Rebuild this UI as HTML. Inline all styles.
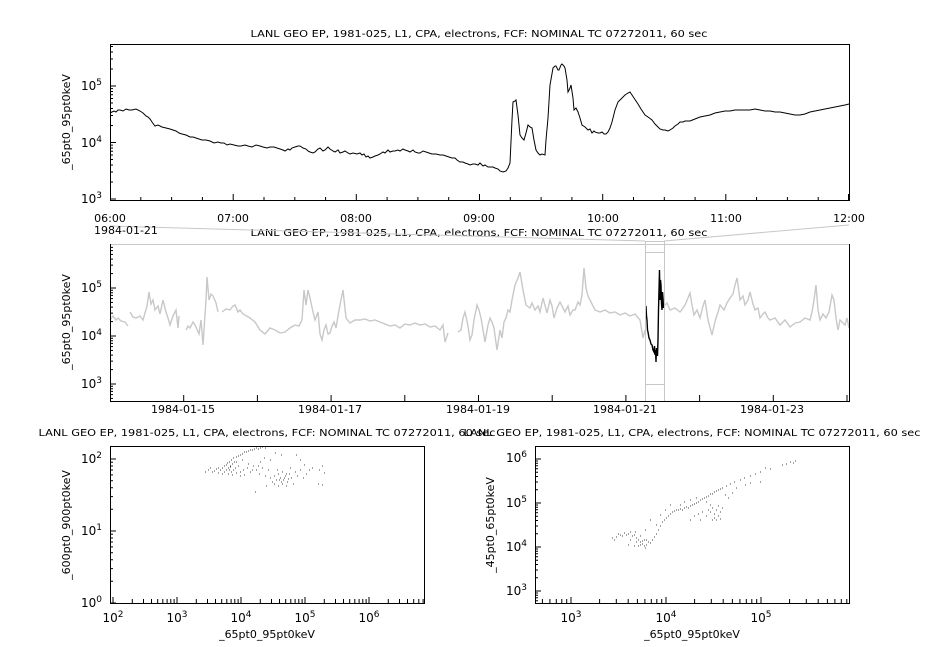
<!DOCTYPE html>
<html><head><meta charset="utf-8"><style>
html,body{margin:0;padding:0;background:#fff;}
svg{display:block;font-family:"DejaVu Sans","Liberation Sans",sans-serif;}
</style></head><body>
<svg width="926" height="647" xmlns="http://www.w3.org/2000/svg">
<g font-size="10" text-anchor="middle" fill="#000">
<text x="479" y="37" textLength="457" lengthAdjust="spacingAndGlyphs">LANL GEO EP, 1981-025, L1, CPA, electrons, FCF: NOMINAL TC 07272011, 60 sec</text>
<text x="479" y="236" textLength="457" lengthAdjust="spacingAndGlyphs">LANL GEO EP, 1981-025, L1, CPA, electrons, FCF: NOMINAL TC 07272011, 60 sec</text>
<text x="267" y="436" textLength="457" lengthAdjust="spacingAndGlyphs">LANL GEO EP, 1981-025, L1, CPA, electrons, FCF: NOMINAL TC 07272011, 60 sec</text>
<text x="692" y="436" textLength="457" lengthAdjust="spacingAndGlyphs">LANL GEO EP, 1981-025, L1, CPA, electrons, FCF: NOMINAL TC 07272011, 60 sec</text>
</g>
<g stroke="#c8c8c8" fill="none">
<line x1="110" y1="226" x2="645" y2="241"/><line x1="849" y1="225" x2="664" y2="241"/>
</g>

<!-- TOP PANEL -->
<polyline fill="none" stroke="#000" stroke-width="1" points="110,113 112,112 114,111 116,112 118,110 120,110 123,111 126,109 129,110 132,110 136,109 140,111 143,113 146,116 148,117 150,119 152,122 155,126 158,125 162,127 166,128 170,129 173,130 176,131 179,133 182,134 186,135 190,137 193,137 196,138 199,139 202,140 206,140 210,141 214,143 218,142 221,143 224,143 227,145 230,144 234,145 238,146 241,146 245,145 248,146 252,147 256,145 260,146 263,147 267,148 270,147 274,147 277,148 280,149 283,150 285,151 288,149 290,150 292,148 295,147 298,146 300,146 303,148 306,149 308,151 310,152 313,153 315,152 318,149 320,148 323,151 325,150 328,147 330,149 333,151 335,152 338,150 340,153 343,152 345,151 348,153 350,154 353,153 357,154 360,153 362,155 364,154 366,157 368,156 370,158 373,157 375,156 378,155 380,154 383,152 385,153 388,150 390,152 393,151 395,151 398,150 400,151 403,149 405,150 408,151 410,152 413,150 415,152 418,153 420,153 423,151 426,152 429,153 432,154 436,154 440,155 443,155 446,156 449,157 452,158 455,158 457,160 460,162 463,162 465,163 468,164 470,165 473,164 475,164 478,165 480,163 483,166 485,165 488,167 490,167 493,167 495,168 498,169 500,171 503,172 506,171 508,168 510,163 512,120 513,102 515,101 516,100 518,115 520,135 522,138 524,140 526,133 528,125 530,127 532,128 534,140 536,150 538,153 540,155 542,154 545,155 546,140 548,118 550,85 553,68 555,66 556,66 558,70 559,70 561,65 562,64 564,66 565,68 567,80 568,92 570,88 571,85 573,98 574,110 576,108 578,112 580,118 582,125 585,127 588,130 590,129 592,133 594,131 595,132 598,133 600,133 602,132 604,134 606,134 608,132 610,128 612,122 615,110 618,102 621,99 625,95 628,93 630,92 632,95 634,98 636,101 638,104 641,109 645,115 648,117 652,120 655,124 658,127 660,129 663,130 665,130 668,131 670,130 673,128 675,126 678,124 680,122 683,122 685,121 688,121 690,121 695,119 700,117 705,116 710,115 715,113 720,112 725,111 730,111 735,110 740,110 745,110 750,110 755,109 760,110 765,111 770,111 775,112 780,112 785,113 790,114 795,115 800,115 805,114 810,112 815,111 820,110 825,109 830,108 835,107 840,106 845,105 849,104"/>
<rect x="110.5" y="44.5" width="739" height="156" fill="none" stroke="#000"/>
<path stroke="#000" fill="none" d="M110,199h6M110,182h3M110,172h3M110,165h3M110,159.5h3M110,155h3M110,151.3h3M110,148h3M110,145.1h3M110,142.5h6M110,125.5h3M110,115.5h3M110,108.5h3M110,103h3M110,98.5h3M110,94.8h3M110,91.5h3M110,88.6h3M110,86h6M110,69h3M110,59h3M110,52h3M110,46.5h3
M110.5,200v-6M140.8,200v-3M171.6,200v-3M202.4,200v-3M233.2,200v-6M264,200v-3M294.8,200v-3M325.6,200v-3M356.3,200v-6M387.1,200v-3M417.9,200v-3M448.7,200v-3M479.5,200v-6M510.3,200v-3M541.1,200v-3M571.9,200v-3M602.7,200v-6M633.5,200v-3M664.3,200v-3M695.1,200v-3M725.8,200v-6M756.6,200v-3M787.4,200v-3M818.2,200v-3M848.5,200v-6"/>
<g font-size="11" text-anchor="middle">
<text x="110" y="222">06:00</text><text x="233" y="222">07:00</text><text x="356" y="222">08:00</text><text x="479" y="222">09:00</text><text x="603" y="222">10:00</text><text x="726" y="222">11:00</text><text x="849" y="222">12:00</text>
</g>
<text x="94" y="234" font-size="11">1984-01-21</text>
<g font-size="12" text-anchor="end">
<text x="102" y="203">10<tspan font-size="9" dy="-5">3</tspan></text>
<text x="102" y="147">10<tspan font-size="9" dy="-5">4</tspan></text>
<text x="102" y="90">10<tspan font-size="9" dy="-5">5</tspan></text>
</g>
<text transform="translate(70,122) rotate(-90)" font-size="11" text-anchor="middle">_65pt0_95pt0keV</text>

<!-- MIDDLE PANEL -->
<g fill="none" stroke="#c8c8c8" stroke-width="1.4">
<polyline points="110,320 113,316 116,320 118,318 121,321 125,322 128,326"/>
<polyline points="130,312 133,317 136,318 140,316 143,320 147,306 149,292 151,304 153,300 155,310 158,306 160,314 163,300 166,312 168,318 170,325 173,316 176,310 178,328 179,316"/>
<polyline points="186,330 188,326 190,328 193,322 195,325 199,334 201,320 203,345 206,300 207,277 209,300 211,294 213,296 216,303 218,312"/>
<polyline points="222,312 226,309 230,310 233,306 235,305 238,312 240,310 243,314 245,315 250,318 255,322 260,330 265,334 270,328 275,330 280,333 285,332 290,328 295,325 299,326 302,320 304,290 306,305 308,290 310,298 313,312 315,320 318,312 320,334 322,340 324,330 326,325 328,334 330,333 332,326 334,322 336,328 338,316 340,305 343,290 346,318 350,323 355,320 360,320 365,319 370,321 375,320 380,322 385,324 390,326 395,325 400,328 405,324 410,325 415,323 420,325 425,324 430,327 435,326 440,330 443,325 445,342 448,333"/>
<polyline points="458,332 461,330 463,318 465,312 468,326 470,340 472,335 474,320 477,305 479,310 481,318 483,330 485,342 488,325 490,318 492,322 494,328 497,350 500,330 502,338 504,322 506,318 508,310 510,312 512,300 515,285 518,278 520,272 523,290 526,305 530,308 532,303 535,310 538,306 540,312 543,298 547,313 550,300 552,306 554,318 557,308 560,302 563,308 565,312 568,306 570,315 573,310 575,310 578,302 580,305 582,295 584,268 586,288 588,296 590,300 595,310 600,312 605,310 610,313 615,312 620,315 625,313 630,316 635,314 640,320 643,338 645,330"/>
<polyline points="664,306 667,303 670,310 675,308 680,312 683,308 685,305 688,298 690,293 692,305 694,315 697,310 700,318 703,306 705,300 708,320 712,335 714,326 716,318 718,312 720,305 724,310 727,303 730,298 733,294 735,285 737,278 739,292 740,300 743,296 745,305 748,300 750,292 753,304 755,310 758,308 760,318 763,314 765,312 768,318 770,320 775,318 780,325 785,320 790,327 795,323 800,322 805,318 810,320 812,312 814,300 816,285 818,310 820,320 823,314 826,318 829,312 832,295 834,300 836,318 838,330 840,320 842,322 845,325 847,318 849,328"/>
</g>
<polyline fill="none" stroke="#000" stroke-width="1.4" points="646,306 646.5,316 647,320 647.5,330 648,332 649,338 650,340 651,344 652,345 653,350 654,352 654.5,346 655,355 655.5,350 656,362 656.5,348 657,350 657.5,356 658,340 658.5,310 659,290 659.5,270 660,300 660.5,280 661,285 661.5,304 662,310 662.5,292 663,298 663.5,308 664,304"/>
<g fill="none" stroke="#c8c8c8">
<rect x="645.5" y="241.5" width="19" height="160"/>
<line x1="645" y1="252.5" x2="664" y2="252.5"/><line x1="645" y1="384.5" x2="664" y2="384.5"/>
<line x1="110" y1="244.5" x2="849" y2="244.5"/>
</g>
<path stroke="#000" fill="none" d="M110.5,244V401.5H849.5V244
M110,398.4h3M110,394.6h3M110,391.4h3M110,388.7h3M110,386.2h3M110,384h6M110,369.6h3M110,361.1h3M110,355.1h3M110,350.4h3M110,346.6h3M110,343.4h3M110,340.7h3M110,338.2h3M110,336h6M110,321.6h3M110,313.1h3M110,307.1h3M110,302.4h3M110,298.6h3M110,295.4h3M110,292.7h3M110,290.2h3M110,288h6M110,273.6h3M110,265.1h3M110,259.1h3M110,254.4h3M110,250.6h3M110,247.4h3
M110.5,401v-6M183.7,401v-6M257.4,401v-6M331.1,401v-6M404.8,401v-6M478.5,401v-6M552.2,401v-6M625.9,401v-6M699.6,401v-6M773.3,401v-6M847,401v-6"/>
<g font-size="11" text-anchor="middle">
<text x="183" y="413">1984-01-15</text><text x="330" y="413">1984-01-17</text><text x="478" y="413">1984-01-19</text><text x="625" y="413">1984-01-21</text><text x="772" y="413">1984-01-23</text>
</g>
<g font-size="12" text-anchor="end">
<text x="102" y="388">10<tspan font-size="9" dy="-5">3</tspan></text>
<text x="102" y="340">10<tspan font-size="9" dy="-5">4</tspan></text>
<text x="102" y="292">10<tspan font-size="9" dy="-5">5</tspan></text>
</g>
<text transform="translate(70,322) rotate(-90)" font-size="11" text-anchor="middle">_65pt0_95pt0keV</text>

<!-- BOTTOM LEFT -->
<path stroke="#444" stroke-width="1" fill="none" d="M205,472h1M208,470h1M210,468h1M212,472h1M214,471h1M216,469h1M218,473h1M220,470h1M222,468h1M224,466h1M226,465h1M227,463h1M228,468h1M229,462h1M230,466h1M231,460h1M232,464h1M233,458h1M234,462h1M236,457h1M238,456h1M240,455h1M242,454h1M244,452h1M246,452h1M248,451h1M250,450h1M252,450h1M254,449h1M256,448h1M258,449h1M260,448h1M262,447h1M265,448h1M229,470h1M231,472h1M233,470h1M235,468h1M228,474h1M232,475h1M236,473h1M230,467h1M226,470h1M224,472h1M238,466h1M240,472h1M243,470h1M247,468h1M250,472h1M253,466h1M256,470h1M259,474h1M262,468h1M265,476h1M268,470h1M270,478h1M272,482h1M274,476h1M276,480h1M278,474h1M280,478h1M282,472h1M283,480h1M285,476h1M287,482h1M289,474h1M291,478h1M293,484h1M295,472h1M297,476h1M300,470h1M303,478h1M306,474h1M309,470h1M312,468h1M274,484h1M278,486h1M282,484h1M286,486h1M255,492h1M266,486h1M290,468h1M300,460h1M296,455h1M270,460h1M260,462h1M264,458h1M275,453h1M281,455h1M248,464h1M244,475h1M240,476h1M319,470h1M322,466h1M324,473h1M318,484h1M322,485h1M304,465h1M277,470h1M279,480h1M281,482h1M284,478h1M286,474h1M288,479h1M242,460h1M236,462h1M252,470h1M258,466h1M222,474h1M218,468h1"/>
<rect x="110.5" y="446.5" width="314" height="157" fill="none" stroke="#000"/>
<path stroke="#000" fill="none" d="M110,603h6M110,581.3h3M110,568.6h3M110,559.7h3M110,552.7h3M110,546.9h3M110,542h3M110,538h3M110,534.3h3M110,531h6M110,509.3h3M110,496.6h3M110,487.7h3M110,480.7h3M110,474.9h3M110,470h3M110,466h3M110,462.3h3M110,459h6
M113,603v-6M132.3,603v-4M143.5,603v-4M151.5,603v-4M157.7,603v-4M162.8,603v-4M167.1,603v-4M170.8,603v-4M174.1,603v-4M177,603v-6M196.3,603v-4M207.5,603v-4M215.5,603v-4M221.7,603v-4M226.8,603v-4M231.1,603v-4M234.8,603v-4M238.1,603v-4M241,603v-6M260.3,603v-4M271.5,603v-4M279.5,603v-4M285.7,603v-4M290.8,603v-4M295.1,603v-4M298.8,603v-4M302.1,603v-4M305,603v-6M324.3,603v-4M335.5,603v-4M343.5,603v-4M349.7,603v-4M354.8,603v-4M359.1,603v-4M362.8,603v-4M366.1,603v-4M369,603v-6M388.3,603v-4M399.5,603v-4M407.5,603v-4M413.7,603v-4M418.8,603v-4M423.1,603v-4"/>
<g font-size="12" text-anchor="middle">
<text x="113" y="622">10<tspan font-size="9" dy="-5">2</tspan></text>
<text x="177" y="622">10<tspan font-size="9" dy="-5">3</tspan></text>
<text x="241" y="622">10<tspan font-size="9" dy="-5">4</tspan></text>
<text x="305" y="622">10<tspan font-size="9" dy="-5">5</tspan></text>
<text x="369" y="622">10<tspan font-size="9" dy="-5">6</tspan></text>
</g>
<g font-size="12" text-anchor="end">
<text x="102" y="607">10<tspan font-size="9" dy="-5">0</tspan></text>
<text x="102" y="535">10<tspan font-size="9" dy="-5">1</tspan></text>
<text x="102" y="463">10<tspan font-size="9" dy="-5">2</tspan></text>
</g>
<text x="267" y="638" font-size="11" text-anchor="middle">_65pt0_95pt0keV</text>
<text transform="translate(70,525) rotate(-90)" font-size="11" text-anchor="middle">_600pt0_900pt0keV</text>

<!-- BOTTOM RIGHT -->
<path stroke="#444" stroke-width="1" fill="none" d="M612,538h1M614,540h1M616,537h1M618,534h1M620,535h1M622,536h1M624,533h1M626,535h1M628,534h1M630,532h1M632,536h1M634,535h1M636,538h1M638,540h1M640,542h1M642,544h1M644,540h1M646,545h1M648,542h1M636,542h1M638,546h1M640,545h1M642,541h1M644,546h1M646,540h1M650,543h1M652,540h1M654,537h1M656,534h1M658,530h1M660,526h1M662,522h1M664,520h1M666,518h1M668,516h1M670,514h1M672,512h1M674,511h1M676,510h1M678,510h1M680,509h1M682,510h1M684,508h1M686,507h1M688,508h1M690,506h1M692,505h1M694,504h1M696,503h1M698,502h1M700,500h1M702,499h1M704,498h1M706,497h1M708,496h1M710,494h1M712,494h1M714,492h1M716,491h1M718,490h1M720,489h1M722,488h1M726,486h1M730,484h1M734,482h1M740,480h1M744,478h1M750,476h1M755,474h1M760,472h1M765,468h1M770,469h1M782,465h1M786,464h1M790,462h1M793,463h1M795,461h1M708,510h1M710,512h1M712,508h1M714,514h1M716,510h1M718,516h1M720,512h1M722,508h1M714,518h1M716,520h1M706,516h1M702,512h1M698,514h1M694,516h1M690,520h1M700,520h1M710,505h1M718,506h1M720,519h1M712,520h1M680,505h1M684,502h1M690,500h1M696,498h1M660,515h1M665,510h1M670,505h1M656,525h1M650,520h1M645,530h1M640,536h1M635,532h1M630,540h1M628,545h1M634,546h1M645,548h1M725,495h1M728,498h1M732,493h1M736,488h1M745,485h1M750,483h1M760,482h1M706,502h1"/>
<rect x="535.5" y="446.5" width="314" height="157" fill="none" stroke="#000"/>
<path stroke="#000" fill="none" d="M535,600.8h3M535,597.8h3M535,595.3h3M535,593h3M535,591h6M535,577.8h3M535,570h3M535,564.5h3M535,560.2h3M535,556.8h3M535,553.8h3M535,551.3h3M535,549h3M535,547h6M535,533.8h3M535,526h3M535,520.5h3M535,516.2h3M535,512.8h3M535,509.8h3M535,507.3h3M535,505h3M535,503h6M535,489.8h3M535,482h3M535,476.5h3M535,472.2h3M535,468.8h3M535,465.8h3M535,463.3h3M535,461h3M535,459h6
M542.4,603v-4M549.9,603v-4M556.3,603v-4M561.8,603v-4M566.7,603v-4M571,603v-6M599.6,603v-4M616.3,603v-4M628.2,603v-4M637.4,603v-4M644.9,603v-4M651.3,603v-4M656.8,603v-4M661.7,603v-4M666,603v-6M694.6,603v-4M711.3,603v-4M723.2,603v-4M732.4,603v-4M739.9,603v-4M746.3,603v-4M751.8,603v-4M756.7,603v-4M761,603v-6M789.6,603v-4M806.3,603v-4M818.2,603v-4M827.4,603v-4M834.9,603v-4M841.3,603v-4M846.8,603v-4"/>
<g font-size="12" text-anchor="middle">
<text x="571" y="622">10<tspan font-size="9" dy="-5">3</tspan></text>
<text x="666" y="622">10<tspan font-size="9" dy="-5">4</tspan></text>
<text x="761" y="622">10<tspan font-size="9" dy="-5">5</tspan></text>
</g>
<g font-size="12" text-anchor="end">
<text x="527" y="595">10<tspan font-size="9" dy="-5">3</tspan></text>
<text x="527" y="551">10<tspan font-size="9" dy="-5">4</tspan></text>
<text x="527" y="507">10<tspan font-size="9" dy="-5">5</tspan></text>
<text x="527" y="462">10<tspan font-size="9" dy="-5">6</tspan></text>
</g>
<text x="692" y="638" font-size="11" text-anchor="middle">_65pt0_95pt0keV</text>
<text transform="translate(494,525) rotate(-90)" font-size="11" text-anchor="middle">_45pt0_65pt0keV</text>
</svg>
</body></html>
